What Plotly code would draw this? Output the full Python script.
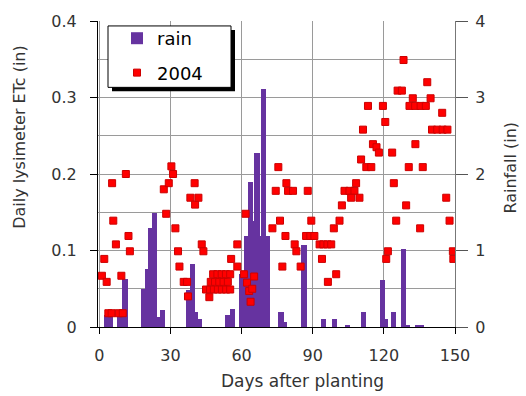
import plotly.graph_objects as go

# ---------------- data ----------------
rain_day = [3.0, 4.6, 8.5, 10.8, 18.6, 20.3, 21.5, 23.2, 25.0, 26.8,
            37.5, 39.2, 40.6, 42.0, 54.3, 56.2,
            60.0, 62.0, 63.9, 65.2, 66.5, 67.8, 69.1, 71.0,
            76.6, 78.0, 86.3, 94.5, 99.3, 104.5, 111.5,
            119.3, 120.8, 124.0, 128.2, 129.8, 134.3, 135.8]
rain_in = [0.16, 0.20, 0.20, 0.63, 0.50, 0.76, 1.30, 1.49, 0.13, 0.22,
           0.48, 0.82, 0.20, 0.10, 0.16, 0.24,
           0.69, 1.19, 1.90, 1.39, 2.27, 1.19, 3.11, 1.19,
           0.20, 0.06, 1.07, 0.11, 0.10, 0.03, 0.20,
           0.61, 0.10, 0.20, 1.02, 0.03, 0.03, 0.03]

etc_day = [1.1, 2.1, 3.1, 3.8, 5.2, 5.4, 5.9, 7.0, 8.2, 9.3, 9.9, 11.2, 12.3, 12.9,
           27.2, 28.2, 29.3, 30.4, 31.1, 32.1, 33.2, 33.8, 35.6, 37.0, 37.4, 38.4,
           40.2, 40.4, 41.8, 43.2, 43.9,
           45.0, 46.7, 48.3, 50.0, 51.7, 53.5, 55.2,
           47.0, 48.8, 50.6, 52.4, 54.2,
           48.0, 49.8, 51.6, 53.4, 55.2, 46.4,
           55.6, 58.2, 58.2, 61.7,
           61.0, 62.3, 63.2, 63.8, 64.5, 65.3,
           73.0, 74.4, 75.5, 76.2, 77.2, 78.5, 78.9, 79.6, 81.7, 82.4, 83.1, 84.9,
           87.2, 87.9, 89.4, 89.0, 90.7,
           92.9, 94.5, 96.2, 97.8, 93.9, 96.4, 99.9, 98.9, 101.3, 102.3,
           103.4, 105.5, 107.6, 106.2, 109.7, 108.3, 110.4, 112.6, 114.7,
           115.4, 116.9, 117.9, 111.2, 113.3, 119.6, 120.6, 123.5, 124.2,
           129.4, 125.2, 121.7, 121.0, 125.8, 127.6, 128.3, 132.2,
           130.8, 133.2, 135.5, 137.7, 138.3, 139.7, 144.6,
           140.3, 142.5, 144.8, 146.8, 133.3, 130.5, 136.4,
           146.3, 147.7, 135.3, 149.1, 149.3]
etc_in = [0.067, 0.089, 0.059, 0.018, 0.018, 0.188, 0.139, 0.108, 0.018, 0.067, 0.018, 0.200, 0.119, 0.099,
          0.180, 0.148, 0.188, 0.210, 0.200, 0.129, 0.099, 0.079, 0.059, 0.059, 0.040, 0.169,
          0.188, 0.160, 0.169, 0.108, 0.099,
          0.049, 0.049, 0.049, 0.049, 0.049, 0.049, 0.049,
          0.059, 0.059, 0.059, 0.059, 0.059,
          0.069, 0.069, 0.069, 0.069, 0.069, 0.039,
          0.089, 0.079, 0.108, 0.148,
          0.069, 0.058, 0.047, 0.033, 0.050, 0.066,
          0.129, 0.178, 0.209, 0.139, 0.079, 0.119, 0.188, 0.178, 0.178, 0.108, 0.099, 0.079,
          0.119, 0.178, 0.139, 0.119, 0.119,
          0.108, 0.108, 0.108, 0.108, 0.089, 0.059, 0.069, 0.129, 0.139, 0.159,
          0.178, 0.178, 0.178, 0.169, 0.169, 0.188, 0.219, 0.209, 0.209,
          0.239, 0.235, 0.228, 0.258, 0.289, 0.289, 0.268, 0.228, 0.188,
          0.159, 0.139, 0.099, 0.089, 0.309, 0.309, 0.349, 0.299,
          0.289, 0.289, 0.289, 0.289, 0.320, 0.299, 0.280,
          0.258, 0.258, 0.258, 0.258, 0.239, 0.209, 0.209,
          0.169, 0.139, 0.129, 0.099, 0.089]

x_ticks = [0, 30, 60, 90, 120, 150]

# ---------------- layout geometry (pixels) ----------------
W, H = 526, 396
L, R, T, B = 98, 71, 18, 69
PW, PH = W - L - R, H - T - B


def px(x):
    return (x - L) / PW


def py(y):
    return (H - B - y) / PH


FONT = "DejaVu Sans"
GRID = "#9a9a9a"
TXT = "#333333"

fig = go.Figure()
fig.add_trace(go.Bar(
    x=rain_day, y=rain_in, name="rain", yaxis="y", width=2.2,
    marker=dict(color="#6633a0", line=dict(width=0)),
    legendgroup="a",
))
fig.add_trace(go.Scatter(
    x=etc_day, y=etc_in, name="2004", yaxis="y2", mode="markers",
    marker=dict(symbol="square", size=7, color="#ff0000",
                line=dict(color="#cc0000", width=1)),
    legendgroup="b",
))

fig.update_layout(
    width=W, height=H,
    margin=dict(l=L, r=R, t=T, b=B, pad=0),
    paper_bgcolor="white", plot_bgcolor="white",
    barmode="overlay", bargap=0,
    font=dict(family=FONT, size=16, color=TXT),
    xaxis=dict(
        range=[-0.55, 150], tickvals=x_ticks, showgrid=True, gridcolor=GRID,
        gridwidth=1, zeroline=False, showline=True, linecolor="black", linewidth=1,
        ticks="outside", ticklen=6, tickcolor="black", ticklabelstandoff=8,
        tickfont=dict(size=16, color=TXT),
    ),
    yaxis=dict(
        range=[0, 4], dtick=1, side="right", showgrid=True, gridcolor=GRID,
        zeroline=False, showline=True, linecolor="#777777",
        ticks="outside", ticklen=12, tickcolor="#555555", ticklabelstandoff=4,
        minor=dict(dtick=0.5, showgrid=True, gridcolor=GRID, ticks=""),
        tickfont=dict(size=16, color=TXT),
    ),
    yaxis2=dict(
        range=[0, 0.4], dtick=0.1, side="left", overlaying="y", showgrid=False,
        zeroline=False, showline=True, linecolor="black",
        ticks="outside", ticklen=7, tickcolor="black", ticklabelstandoff=10,
        tickfont=dict(size=16, color=TXT),
    ),
    showlegend=True,
    legend=dict(
        x=px(117), y=py(17), xanchor="left", yanchor="top",
        bgcolor="rgba(0,0,0,0)", borderwidth=0,
        font=dict(family=FONT, size=18, color="black"),
        traceorder="grouped", tracegroupgap=8,
    ),
    shapes=[
        dict(type="rect", xref="paper", yref="paper", layer="above",
             x0=px(112), x1=px(235), y0=py(89), y1=py(27),
             fillcolor="black", line=dict(width=0)),
        dict(type="rect", xref="paper", yref="paper", layer="above",
             x0=px(108), x1=px(231), y0=py(85), y1=py(23),
             fillcolor="white", line=dict(color="black", width=1)),
    ],
    annotations=[
        dict(text="Daily lysimeter ETc (in)", xref="paper", yref="paper",
             x=px(20), y=py(135), xanchor="center", yanchor="middle",
             textangle=-90, showarrow=False, font=dict(size=16, color=TXT)),
        dict(text="Rainfall (in)", xref="paper", yref="paper",
             x=px(511), y=py(166), xanchor="center", yanchor="middle",
             textangle=-90, showarrow=False, font=dict(size=16, color=TXT)),
        dict(text="Days after planting", xref="paper", yref="paper",
             x=px(302), y=py(382), xanchor="center", yanchor="middle",
             showarrow=False, font=dict(size=17, color=TXT)),
    ],
)

fig.write_html("out.html")
